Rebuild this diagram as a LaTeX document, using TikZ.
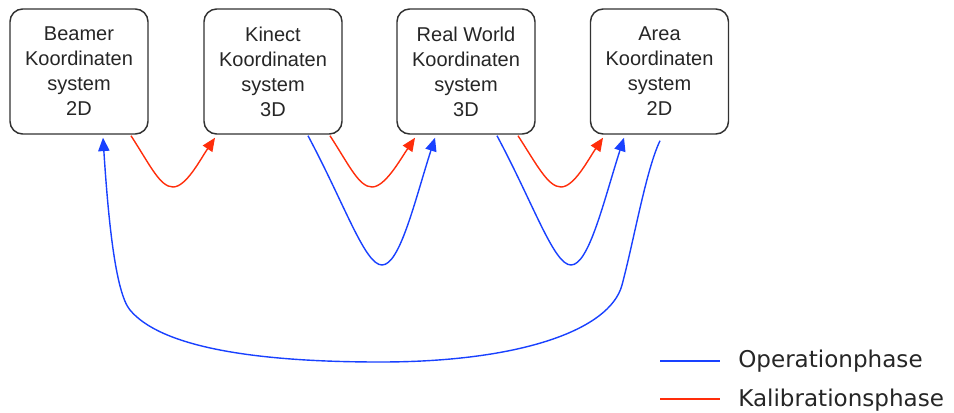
\documentclass[tikz,border=0pt]{standalone}
\usepackage{fontspec}
\setmainfont{Liberation Sans}
\newfontfamily\legendfont{DejaVu Sans}
\usetikzlibrary{arrows.meta,calc}
\definecolor{opblue}{RGB}{25,65,255}
\definecolor{kalred}{RGB}{255,45,10}
\definecolor{boxgray}{RGB}{50,50,50}
\begin{document}
\begin{tikzpicture}[x=0.75pt,y=-0.75pt,
  sysbox/.style={draw=boxgray,line width=1.1pt,rounded corners=9.5pt,minimum width=103.5pt,minimum height=93.75pt,align=center,font=\fontsize{15}{18.75}\selectfont,inner sep=0pt,text=black!85},
  opline/.style={draw=opblue,line width=1.05pt},
  kalline/.style={draw=kalred,line width=1.05pt},
  headed/.style={-{Triangle[length=10pt,width=8.5pt]}},
  legline/.style={line width=2.2pt},
  legtext/.style={anchor=base west,inner sep=0pt,font=\legendfont\fontsize{17.3}{20}\selectfont,text=black!85}
]
\path[fill=white] (0,0) rectangle (954,412);

% boxes
\node[sysbox] (b1) at (79,71.5) {Beamer\\Koordinaten\\system\\2D};
\node[sysbox] (b2) at (273,71.5) {Kinect\\Koordinaten\\system\\3D};
\node[sysbox] (b3) at (466,71.5) {Real World\\Koordinaten\\system\\3D};
\node[sysbox] (b4) at (659.5,71.5) {Area\\Koordinaten\\system\\2D};

% connector end points
\coordinate (r1s) at ($(b1.south)+(52,1)$);
\coordinate (r1e) at ($(b2.south)+(-58,3)$);
\coordinate (r2s) at ($(b2.south)+(57,1)$);
\coordinate (r2e) at ($(b3.south)+(-51,3)$);
\coordinate (r3s) at ($(b3.south)+(52,1)$);
\coordinate (r3e) at ($(b4.south)+(-56.5,3)$);
\coordinate (o2s) at ($(b2.south)+(35,1)$);
\coordinate (o2e) at ($(b3.south)+(-31,3)$);
\coordinate (o3s) at ($(b3.south)+(31,1)$);
\coordinate (o3e) at ($(b4.south)+(-35.5,3)$);
\coordinate (o1s) at ($(b4.south)+(0.5,6)$);
\coordinate (o1e) at ($(b1.south)+(24,3)$);

% Kalibrationsphase (red)
\draw[kalline,headed] (r1s) .. controls (150,165) and (160,187) .. (173,187)
  .. controls (186,187) and (200,160) .. (r1e);
\draw[kalline,headed] (r2s) .. controls (349,165) and (359,187) .. (372,187)
  .. controls (385,187) and (400,160) .. (r2e);
\draw[kalline,headed] (r3s) .. controls (537,165) and (548,187) .. (561,187)
  .. controls (574,187) and (588,160) .. (r3e);

% Operationphase (blue)
\draw[opline,headed] (o2s) .. controls (345,205) and (365,265) .. (382,265)
  .. controls (400,265) and (415,200) .. (o2e);
\draw[opline,headed] (o3s) .. controls (534,205) and (554,265) .. (571,265)
  .. controls (589,265) and (604,200) .. (o3e);
\draw[opline,headed] (o1s) .. controls (646,170) and (634,240) .. (622,285)
  .. controls (610,330) and (520,362) .. (380,362)
  .. controls (250,362) and (160,346) .. (130,310)
  .. controls (115,292) and (108,215) .. (o1e);

% legend
\node[legtext] (lt1) at (738,367) {Operationphase};
\node[legtext] (lt2) at (738,406) {Kalibrationsphase};
\coordinate (lb1s) at (660,361);
\coordinate (lb1e) at (720,361);
\coordinate (lb2s) at (660,399);
\coordinate (lb2e) at (720,399);
\draw[opline,legline] (lb1s) -- (lb1e);
\draw[kalline,legline] (lb2s) -- (lb2e);
\end{tikzpicture}
\end{document}
